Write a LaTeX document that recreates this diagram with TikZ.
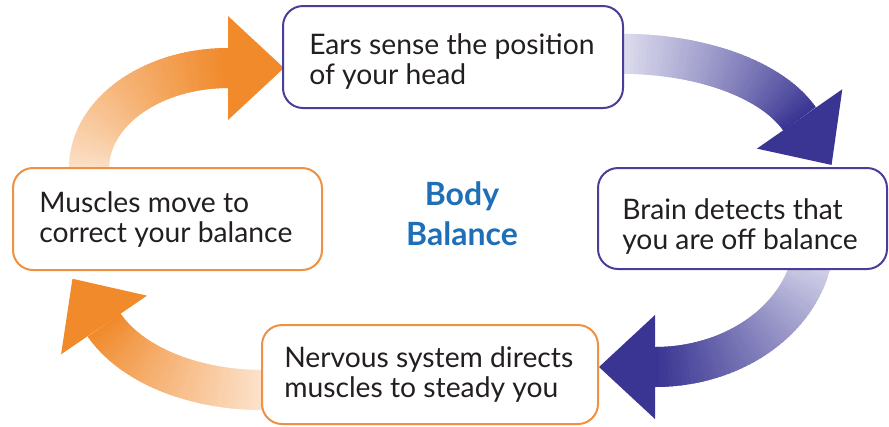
\documentclass[tikz,border=0pt]{standalone}
\usepackage{fontspec}
\setmainfont{Lato}
\definecolor{bluedark}{HTML}{3A3593}
\definecolor{bluelight}{HTML}{E8E8F4}
\definecolor{orgdark}{HTML}{F08A2B}
\definecolor{orglight}{HTML}{FDE8D6}
\definecolor{blueline}{HTML}{4A3F98}
\definecolor{orgline}{HTML}{EE9142}
\definecolor{txt}{HTML}{231F20}
\definecolor{titleblue}{HTML}{1E6FB7}
% #1 cx, #2 cy, #3 rx, #4 ry, #5 t0, #6 t1, #7 dark, #8 light
\newcommand\gradcurve[8]{%
  \foreach \i in {0,...,59}{%
    \pgfmathsetmacro\ta{#5+(#6-#5)*\i/60}%
    \pgfmathsetmacro\tb{min(#6,#5+(#6-#5)*(\i+1.7)/60)}%
    \pgfmathtruncatemacro\p{round(100*\i/59)}%
    \draw[line width=30pt,#7!\p!#8] ({#1+#3*cos(\ta)},{#2+#4*sin(\ta)}) arc[start angle=\ta,end angle=\tb,x radius=#3,y radius=#4];
  }%
  \pgfmathsetmacro\ex{#1+#3*cos(#6)}%
  \pgfmathsetmacro\ey{#2+#4*sin(#6)}%
  \pgfmathsetmacro\ang{atan2(#4*cos(#6),-#3*sin(#6))}%
  \fill[#7] ({\ex+56*cos(\ang)},{\ey+56*sin(\ang)}) -- ({\ex-52*sin(\ang)},{\ey+52*cos(\ang)}) -- ({\ex+52*sin(\ang)},{\ey-52*cos(\ang)}) -- cycle;
}
\tikzset{
  stepbox/.style={rectangle, rounded corners=15pt, line width=1.5pt, fill=white, inner sep=0pt},
  bluebox/.style={stepbox, draw=blueline},
  orgbox/.style={stepbox, draw=orgline},
  steptext/.style={anchor=west, text=txt, align=left, inner sep=0pt,
    font=\fontsize{21.2}{22.5}\selectfont},
}
\begin{document}
\begin{tikzpicture}[x=0.75pt,y=-0.75pt]
\useasboundingbox (0,0) rectangle (889,426);
% curved arrows
\gradcurve{228}{168}{139}{100}{170}{270}{orgdark}{orglight}
\gradcurve{622}{152.8}{189}{99}{265}{340}{bluedark}{bluelight}
\gradcurve{655}{236.1}{159.4}{130.9}{0}{90}{bluedark}{bluelight}
\gradcurve{262}{283.3}{171.6}{106.7}{85}{157}{orgdark}{orglight}
% boxes
\node[bluebox, minimum width=255pt, minimum height=76.5pt] (ears) at (453,57) {};
\node[bluebox, minimum width=216.75pt, minimum height=75.75pt] (brain) at (742.5,218.5) {};
\node[orgbox, minimum width=252pt, minimum height=74.25pt] (nervous) at (430,374.5) {};
\node[orgbox, minimum width=231.75pt, minimum height=76.5pt] (muscles) at (167.5,219) {};
% texts
\node[steptext] (earsT) at (309,62) {Ears sense the position\\of your head};
\node[steptext] (brainT) at (622,227) {Brain detects that\\you are off balance};
\node[steptext] (nervousT) at (284,375) {Nervous system directs\\muscles to steady you};
\node[steptext] (musclesT) at (39,220) {Muscles move to\\correct your balance};
\node[text=titleblue, font=\bfseries\fontsize{24}{30}\selectfont, align=center] (title) at (462,214) {Body\\Balance};
\end{tikzpicture}
\end{document}
